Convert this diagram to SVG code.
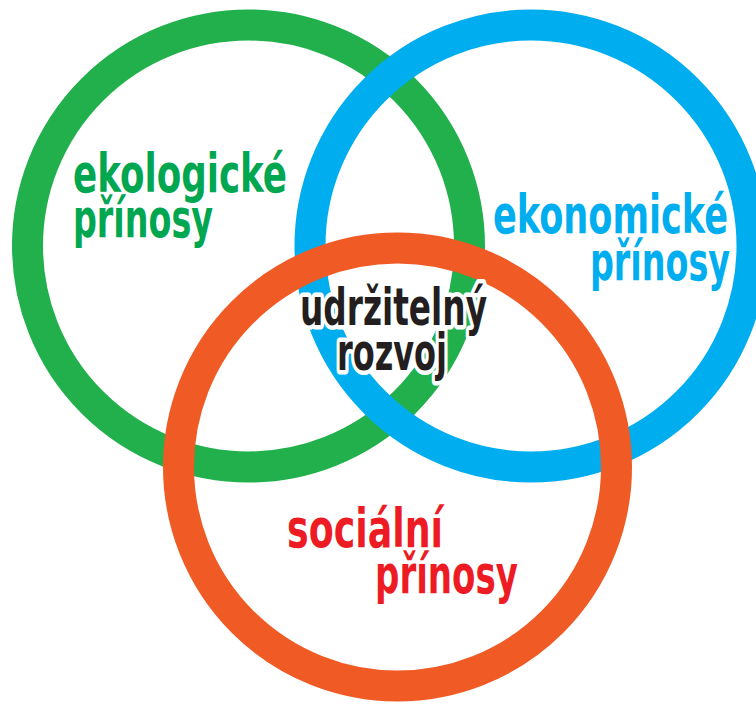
<svg xmlns="http://www.w3.org/2000/svg" width="756" height="704" viewBox="0 0 756 704">
<style>
.ring{fill:none;stroke-width:31}
.t{font-family:"Liberation Sans Narrow","DejaVu Sans Condensed","DejaVu Sans",sans-serif;font-weight:bold;font-stretch:condensed}
.g{fill:#00a650}
.b{fill:#00aeef}
.r{fill:#ed1c24}
.k{fill:#231f20;stroke:#fff;stroke-width:9;stroke-linejoin:round;paint-order:stroke}
</style>
<rect width="756" height="704" fill="#fff"/>
<g id="ecology">
<circle class="ring" cx="248.5" cy="246" r="221" stroke="#21b04b"/>
</g>
<g id="economy">
<circle class="ring" cx="531" cy="246" r="221" stroke="#00adef"/>
</g>
<g id="social">
<circle class="ring" cx="397.5" cy="467" r="219" stroke="#f05a24" stroke-width="32"/>
</g>
<g id="ecology-label" class="t g" font-size="54">
<text x="73" y="192" textLength="214" lengthAdjust="spacingAndGlyphs">ekologické</text>
<text x="73" y="237" textLength="140" lengthAdjust="spacingAndGlyphs">přínosy</text>
</g>
<g id="economy-label" class="t b" font-size="54">
<text x="493" y="233" textLength="235" lengthAdjust="spacingAndGlyphs">ekonomické</text>
<text x="590" y="280" textLength="140" lengthAdjust="spacingAndGlyphs">přínosy</text>
</g>
<g id="social-label" class="t r" font-size="54">
<text x="287" y="547" textLength="156" lengthAdjust="spacingAndGlyphs">sociální</text>
<text x="375" y="593" textLength="143" lengthAdjust="spacingAndGlyphs">přínosy</text>
</g>
<g id="center-label" class="t k" font-size="51">
<text x="300" y="325" textLength="187" lengthAdjust="spacingAndGlyphs">udržitelný</text>
<text x="337" y="370" textLength="110" lengthAdjust="spacingAndGlyphs">rozvoj</text>
</g>
</svg>
